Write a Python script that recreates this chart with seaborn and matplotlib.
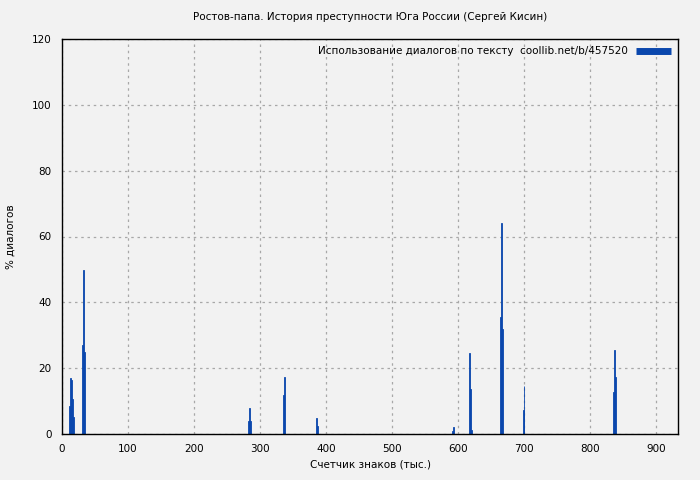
import matplotlib
matplotlib.use("Agg")
import matplotlib.pyplot as plt
import seaborn as sns
import pandas as pd
from matplotlib.lines import Line2D

# positions in thousands of characters and % of dialogue
positions = [11.0, 12.5, 14.0, 15.5, 17.0,
             30.6, 32.0, 33.6,
             282.0, 283.6, 285.2,
             335.0, 336.6,
             384.8, 386.5,
             592.0, 593.5,
             617.0, 618.5, 620.0,
             663.8, 665.2, 666.8,
             698.2, 699.7,
             835.0, 836.2, 837.8]
dialog_pct = [8.6, 17.0, 16.4, 10.7, 5.3,
              27.0, 49.8, 24.9,
              4.0, 7.9, 4.0,
              11.9, 17.3,
              4.9, 2.4,
              0.9, 2.1,
              24.6, 13.7, 1.2,
              35.6, 64.1, 31.9,
              7.3, 14.6,
              12.8, 25.5, 17.3]

title = "Ростов-папа. История преступности Юга России (Сергей Кисин)"
legend_label = "Использование диалогов по тексту  coollib.net/b/457520"
bar_color = "#0a47ad"

df = pd.DataFrame({"pos": positions, "pct": dialog_pct})

sns.set_style("white")
plt.rcParams["font.family"] = ["DejaVu Sans"]
plt.rcParams["font.size"] = 8
plt.rcParams["text.color"] = "black"
plt.rcParams["axes.labelcolor"] = "black"

fig = plt.figure(figsize=(7, 4.8), dpi=100, facecolor="#f2f2f2")
ax = fig.add_axes([62 / 700, 46 / 480, 616 / 700, 395 / 480])
ax.set_facecolor("#f2f2f2")

sns.histplot(data=df, x="pos", weights="pct", binwidth=1.5, binrange=(0, 934.5),
             color=bar_color, alpha=1, linewidth=0.6, edgecolor=bar_color, ax=ax)

ax.set_xlim(0, 933)
ax.set_ylim(0, 120)
ax.set_xticks(range(0, 901, 100))
ax.set_yticks(range(0, 121, 20))
ax.grid(True, color="#a8a8a8", linestyle=(0, (2, 3)), linewidth=0.9)
ax.set_axisbelow(True)
for s in ax.spines.values():
    s.set_color("black")
    s.set_linewidth(1)
ax.tick_params(direction="out", length=4, width=1, colors="black",
               labelcolor="black", labelsize=7.5)

ax.set_title(title, fontsize=7.5, pad=14, color="black")
ax.set_xlabel("Счетчик знаков (тыс.)", fontsize=7.5, labelpad=4, color="black")
ax.set_ylabel("% диалогов", fontsize=7.5, labelpad=12, color="black")

handle = Line2D([0], [0], color=bar_color, linewidth=5, solid_capstyle="butt")
leg = ax.legend([handle], [legend_label], loc="upper right", frameon=False,
                fontsize=7.5, handlelength=3.3, markerfirst=False,
                borderaxespad=0.3, handletextpad=0.8)
for t in leg.get_texts():
    t.set_color("black")

fig.savefig("out.png", dpi=100, facecolor=fig.get_facecolor())
